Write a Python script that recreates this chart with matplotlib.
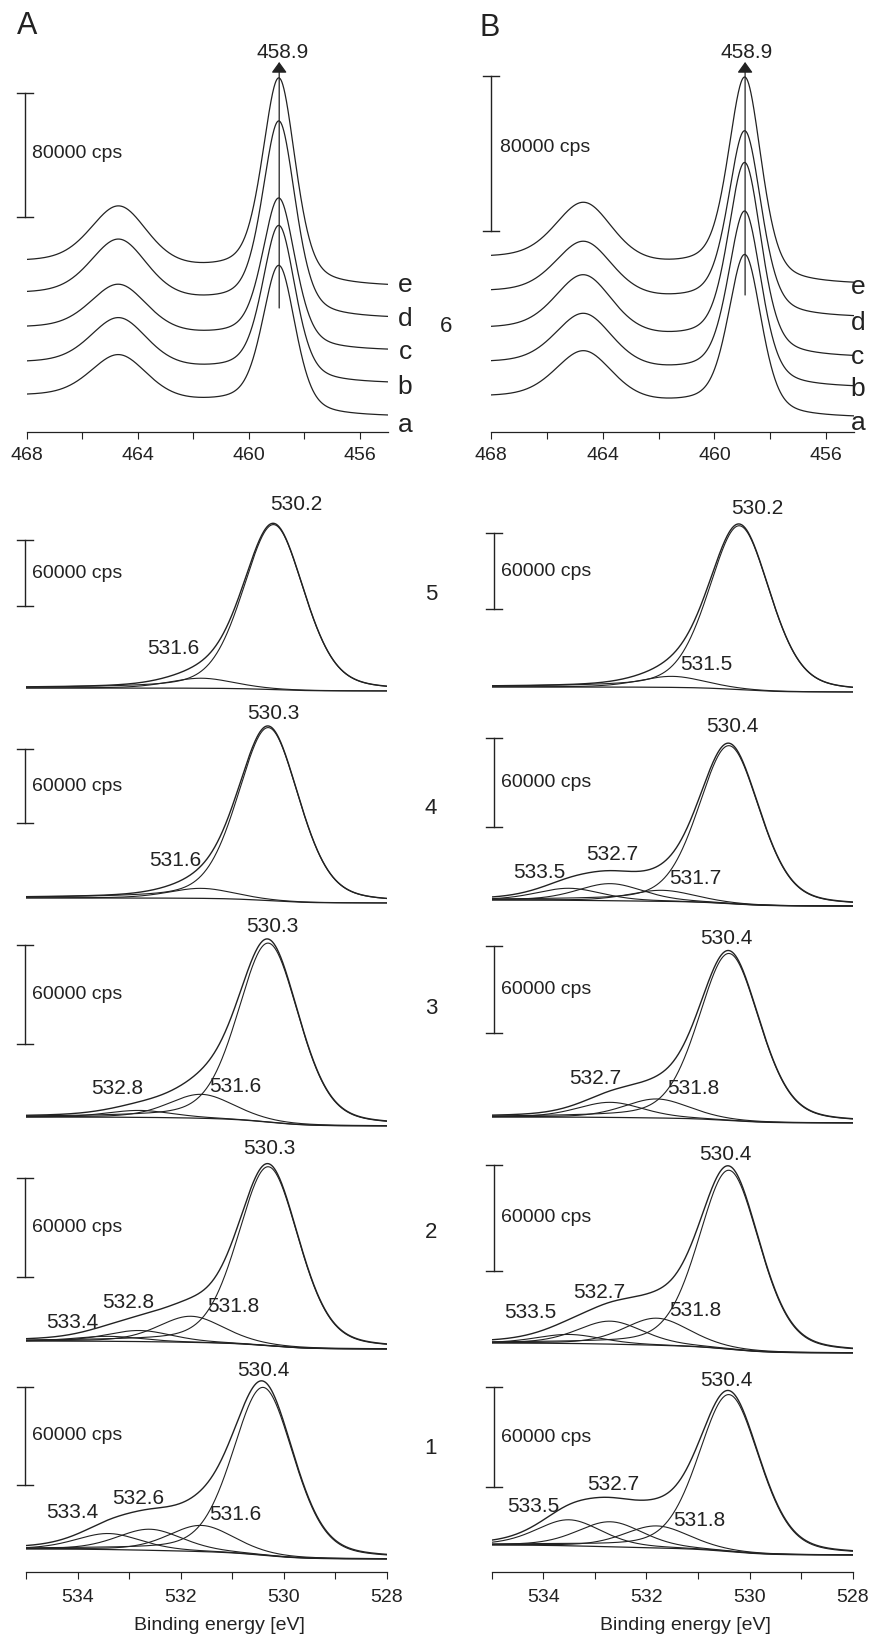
import numpy as np
import matplotlib.pyplot as plt
from matplotlib.transforms import blended_transform_factory

plt.rcParams['font.family'] = ['Liberation Sans', 'DejaVu Sans']

W, H = 873, 1637
INK = '#222222'

# ---------------- Ti 2p stacks (cps), curves a..e bottom to top ----------------
ti_names = ['a', 'b', 'c', 'd', 'e']
ti_e32 = 458.9
ti_e12 = 464.65
ti_w32, ti_w12 = 1.4, 2.4

tiA_base = [9700, 31000, 52200, 72900, 93500]
tiA_step = [13500, 13500, 14800, 16100, 16100]
tiA_h32 = [92900, 97400, 93500, 121900, 129000]
tiA_h12 = [28400, 31000, 30300, 37400, 38100]

tiB_base = [7200, 22700, 38200, 58800, 75900]
tiB_step = [10800, 12900, 15000, 13400, 13900]
tiB_h32 = [80500, 86700, 95500, 91800, 102200]
tiB_h12 = [25300, 27300, 29900, 27900, 30400]

ti_bar = 80000

# ---------------- O 1s fits, rows 5..1 top to bottom ----------------
o_rows = ['5', '4', '3', '2', '1']
o_w_main, o_w_minor = 1.4, 1.5
o_bar = 60000

oA_base = [8200, 7300, 5500, 6700, 8000]
oA_step = [2700, 4100, 5400, 4800, 6100]
oA_centers = [[530.2, 531.6],
              [530.3, 531.6],
              [530.3, 531.6, 532.8],
              [530.3, 531.8, 532.8, 533.4],
              [530.4, 531.6, 532.6, 533.4]]
oA_heights = [[150000, 9100],
              [140300, 8100],
              [108500, 14500, 4200],
              [108500, 15800, 6700, 3000],
              [102800, 16000, 12900, 9800]]

oB_base = [6300, 4000, 8300, 4000, 10200]
oB_step = [4000, 4100, 4100, 5600, 6000]
oB_centers = [[530.2, 531.5],
              [530.4, 531.7, 532.7, 533.5],
              [530.4, 531.8, 532.7],
              [530.4, 531.8, 532.7, 533.5],
              [530.4, 531.8, 532.7, 533.5]]
oB_heights = [[129400, 8700],
              [106500, 7400, 11500, 8100],
              [115200, 13100, 10400],
              [101300, 15300, 13000, 5100],
              [94200, 13200, 15000, 15600]]


def gl(x, c, h, w, eta=0.3):
    d = (x - c) / w
    return h * ((1 - eta) * np.exp(-4 * np.log(2) * d ** 2) + eta / (1 + 4 * d ** 2))


def shirley(peaks, base, step):
    # x runs from high to low binding energy, so integrate from the right end
    cum = np.cumsum(peaks[::-1])[::-1]
    return base + step * cum / cum[0]


fig = plt.figure(figsize=(W / 100, H / 100), dpi=100)


def px_axes(x0, x1, y_top, y_bot):
    return fig.add_axes([x0 / W, 1 - y_bot / H, (x1 - x0) / W, (y_bot - y_top) / H])


def ftext(x, y, s, size, ha='center', va='center'):
    fig.text(x / W, 1 - y / H, s, fontsize=size, ha=ha, va=va, color=INK)


def scale_bar(ax, xa, y0, length, cap):
    tr = blended_transform_factory(ax.transAxes, ax.transData)
    kw = dict(color=INK, lw=1.0, transform=tr, clip_on=False)
    ax.plot([xa, xa], [y0, y0 + length], **kw)
    ax.plot([xa - cap, xa + cap], [y0, y0], **kw)
    ax.plot([xa - cap, xa + cap], [y0 + length, y0 + length], **kw)


def bottom_axis(ax, major, minor, pad):
    for s in ['left', 'right', 'top']:
        ax.spines[s].set_visible(False)
    ax.spines['bottom'].set_color(INK)
    ax.spines['bottom'].set_linewidth(0.9)
    ax.set_yticks([])
    ax.set_xticks(major)
    ax.set_xticks(minor, minor=True)
    ax.tick_params(axis='x', which='both', direction='out', length=5, width=0.8,
                   colors=INK, labelsize=14, pad=pad)


# ---------------- top: Ti 2p ----------------
ti_cols = [
    dict(x0=26.5, x1=387.5, base=tiA_base, step=tiA_step, h32=tiA_h32, h12=tiA_h12,
         cpp=80000 / 124, bar_bot=217, bar_x=25, cps_xy=(32, 153),
         line=(308, 62), lab_x=405, lab_y=[425, 387, 352, 319, 285], tag=('A', 27, 26),
         peak_xy=(283, 52)),
    dict(x0=491.0, x1=854.0, base=tiB_base, step=tiB_step, h32=tiB_h32, h12=tiB_h12,
         cpp=80000 / 155, bar_bot=231, bar_x=491, cps_xy=(500, 148),
         line=(295, 62), lab_x=858, lab_y=[423, 389, 357, 323, 287], tag=('B', 490, 28),
         peak_xy=(747, 52)),
]

x_ti = np.linspace(468, 455, 1301)
ti_top, ti_bot = 40, 432

for col in ti_cols:
    ax = px_axes(col['x0'], col['x1'], ti_top, ti_bot)
    cpp = col['cpp']
    ax.set_xlim(468, 455)
    ax.set_ylim(0, (ti_bot - ti_top) * cpp)
    for i in range(len(ti_names)):
        peaks = gl(x_ti, ti_e32, col['h32'][i], ti_w32, 0.4) + gl(x_ti, ti_e12, col['h12'][i], ti_w12, 0.3)
        y = shirley(peaks, col['base'][i], col['step'][i]) + peaks
        ax.plot(x_ti, y, color=INK, lw=0.9)
        ftext(col['lab_x'], col['lab_y'][i], ti_names[i], 19)
    # marker line for the Ti 2p3/2 position
    yb_line, yt_line = [(ti_bot - p) * cpp for p in col['line']]
    ax.annotate('', xy=(ti_e32, yt_line), xytext=(ti_e32, yb_line),
                arrowprops=dict(arrowstyle='-|>,head_length=0.5,head_width=0.36',
                                mutation_scale=13, color=INK, lw=0.9,
                                shrinkA=0, shrinkB=0), annotation_clip=False)
    ftext(*col['peak_xy'], f'{ti_e32:.1f}', 15)
    # intensity scale bar
    xa = (col['bar_x'] - col['x0']) / (col['x1'] - col['x0'])
    cap = 8 / (col['x1'] - col['x0'])
    scale_bar(ax, xa, (ti_bot - col['bar_bot']) * cpp, ti_bar, cap)
    ftext(col['cps_xy'][0], col['cps_xy'][1], f'{ti_bar} cps', 14, ha='left')
    bottom_axis(ax, [468, 464, 460, 456], [466, 462, 458], pad=6)
    ftext(col['tag'][1], col['tag'][2], col['tag'][0], 22)

ftext(446, 327, '6', 16)

# ---------------- O 1s fits ----------------
row_top = [470, 700, 912, 1135, 1360]
row_bot = [700, 912, 1135, 1360, 1572]
row_num_y = [595, 808, 1008, 1232, 1449]

o_cols = [
    dict(x0=26.0, x1=387.0, base=oA_base, step=oA_step, centers=oA_centers, heights=oA_heights,
         bars=[(540, 606), (749, 823), (945, 1044), (1178, 1277), (1387, 1485)],
         bar_x=25, cps_x=32, xlabel_x=219,
         labels=[[(296, 505), (173, 649)],
                 [(273, 713), (175, 860)],
                 [(272, 927), (235, 1086), (117, 1088)],
                 [(269, 1149), (233, 1307), (128, 1302), (72, 1322)],
                 [(263, 1371), (235, 1515), (138, 1499), (72, 1512)]]),
    dict(x0=491.5, x1=853.0, base=oB_base, step=oB_step, centers=oB_centers, heights=oB_heights,
         bars=[(533, 609), (738, 827), (946, 1033), (1165, 1271), (1387, 1487)],
         bar_x=494, cps_x=501, xlabel_x=685,
         labels=[[(757, 508), (706, 665)],
                 [(732, 727), (695, 878), (612, 855), (539, 872)],
                 [(726, 939), (693, 1088), (595, 1078)],
                 [(725, 1154), (695, 1310), (599, 1292), (530, 1313)],
                 [(726, 1380), (699, 1520), (613, 1485), (533, 1506)]]),
]

x_o = np.linspace(535, 528, 701)

for col in o_cols:
    for r in range(len(o_rows)):
        yt, yb = row_top[r], row_bot[r]
        bar_t, bar_b = col['bars'][r]
        cpp = o_bar / (bar_b - bar_t)
        ax = px_axes(col['x0'], col['x1'], yt, yb)
        ax.set_xlim(535, 528)
        ax.set_ylim(0, (yb - yt) * cpp)

        comps = []
        for k, (c, h) in enumerate(zip(col['centers'][r], col['heights'][r])):
            w = o_w_main if k == 0 else o_w_minor
            comps.append(gl(x_o, c, h, w))
        total = np.sum(comps, axis=0)
        bg = shirley(total, col['base'][r], col['step'][r])

        ax.plot(x_o, bg + total, color=INK, lw=1.0)
        for comp in comps:
            ax.plot(x_o, bg + comp, color=INK, lw=0.8)
        ax.plot(x_o, bg, color=INK, lw=0.9)

        for c, (lx, ly) in zip(col['centers'][r], col['labels'][r]):
            ftext(lx, ly, f'{c:.1f}', 15)

        xa = (col['bar_x'] - col['x0']) / (col['x1'] - col['x0'])
        cap = 8 / (col['x1'] - col['x0'])
        scale_bar(ax, xa, (yb - bar_b) * cpp, o_bar, cap)
        ftext(col['cps_x'], (bar_t + bar_b) / 2, f'{o_bar} cps', 14, ha='left')

        if r == len(o_rows) - 1:
            bottom_axis(ax, [534, 532, 530, 528], [535, 533, 531, 529], pad=7)
        else:
            ax.set_axis_off()
    ftext(col['xlabel_x'], 1625, 'Binding energy [eV]', 14)

for r, lab in enumerate(o_rows):
    ftext(431, row_num_y[r], lab, 16)

fig.savefig('out.png', dpi=100)
